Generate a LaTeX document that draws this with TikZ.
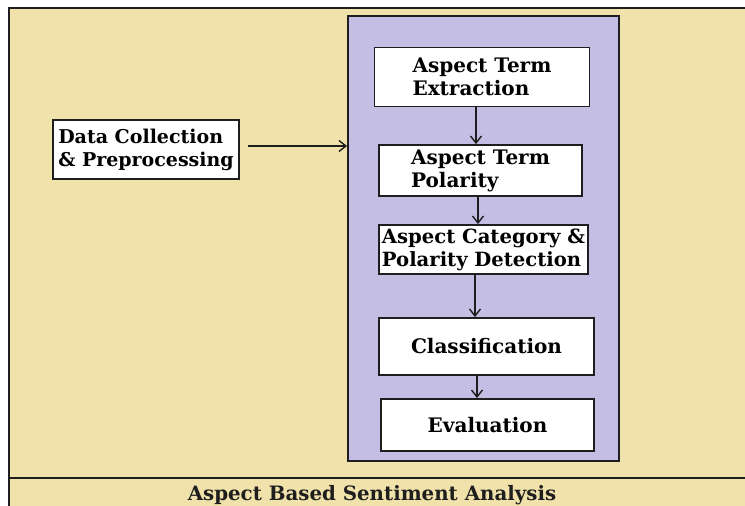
\documentclass[tikz,border=0pt]{standalone}
\usepackage{fontspec}
\setmainfont{DejaVu Serif}
\usetikzlibrary{arrows.meta}
\definecolor{wheatbg}{RGB}{240,226,170}
\definecolor{lilac}{RGB}{197,190,228}
\definecolor{ink}{RGB}{30,30,30}
\tikzset{
  stepbox/.style={draw=ink, fill=white, line width=1.8pt, inner sep=0pt, align=left,
    font=\fontsize{20}{23}\selectfont\bfseries},
  arr/.style={draw=ink, line width=1.4pt, -{Straight Barb[length=7pt,width=11pt]}},
}
\begin{document}
\begin{tikzpicture}[x=1pt,y=-1pt]
\useasboundingbox (0,0) rectangle (745,506);
\begin{scope}
\clip (0,0) rectangle (745,506);
\fill[white] (0,0) rectangle (745,506);
\draw[ink, line width=1.8pt, fill=wheatbg] (9,8) rectangle (760,520);
\draw[ink, line width=1.8pt] (9,478) -- (760,478);
\end{scope}
\node[draw=ink, fill=lilac, line width=1.8pt, minimum width=271pt, minimum height=445pt, inner sep=0pt] (proc) at (483.5,238.5) {};
\node[stepbox, minimum width=215pt, minimum height=59pt] (ext) at (482,77) {Aspect Term\\Extraction};
\node[stepbox, minimum width=203pt, minimum height=51pt] (pol) at (480.5,170.5) {Aspect Term\\Polarity};
\node[stepbox, minimum width=209pt, minimum height=49pt, font=\fontsize{19.6}{23}\selectfont\bfseries] (cat) at (483.5,249.5) {Aspect Category \&\\Polarity Detection};
\node[stepbox, minimum width=215pt, minimum height=57pt] (cls) at (486.5,346.5) {Classification};
\node[stepbox, minimum width=213pt, minimum height=52pt] (eva) at (487.5,425) {Evaluation};
\node[stepbox, minimum width=186pt, minimum height=59pt, font=\fontsize{19}{23}\selectfont\bfseries] (data) at (146,149.5) {Data Collection\\\& Preprocessing};
\node[font=\fontsize{19.8}{22}\selectfont\bfseries, text=ink] (title) at (372,495) {Aspect Based Sentiment Analysis};
\draw[arr] (ext.south -| 476,0) -- (pol.north -| 476,0);
\draw[arr] (pol.south -| 478,0) -- (cat.north -| 478,0);
\draw[arr] (cat.south -| 475,0) -- (cls.north -| 475,0);
\draw[arr] (cls.south -| 477,0) -- (eva.north -| 477,0);
\draw[arr, shorten <=8pt] (data.east |- 0,146) -- (proc.west |- 0,146);
\end{tikzpicture}
\end{document}
